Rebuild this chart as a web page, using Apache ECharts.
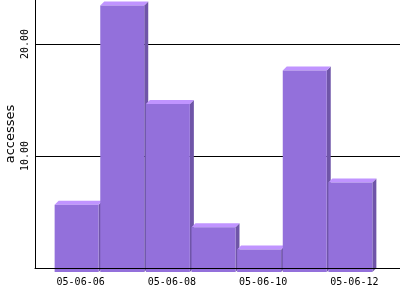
<!DOCTYPE html>
<html>
<head>
<meta charset="utf-8">
<script src="https://cdn.jsdelivr.net/npm/echarts@6/dist/echarts.min.js"></script>
<style>
html,body{margin:0;padding:0;background:#fff;}
#chart{width:400px;height:300px;}
</style>
</head>
<body>
<div id="chart"></div>
<script>
const categories = ['05-06-06','05-06-07','05-06-08','05-06-09','05-06-10','05-06-11','05-06-12'];
const accesses = [6, 23.8, 15, 4, 2, 18, 8];
const yTicks = [10, 20];

const chart = echarts.init(document.getElementById('chart'), null, {renderer: 'canvas'});
const DEPTH = 4;
const HALF = 0.482;

chart.setOption({
  animation: false,
  backgroundColor: '#ffffff',
  grid: {left: 35, right: 0, top: -68, bottom: 32, containLabel: false, outerBoundsMode: 'none'},
  xAxis: {
    type: 'value',
    min: -1, max: 7, interval: 1,
    z: 5,
    axisLine: {show: true, onZero: false, lineStyle: {color: '#000', width: 1}},
    axisTick: {show: false},
    splitLine: {show: false},
    axisLabel: {
      margin: 9,
      fontFamily: 'DejaVu Sans Mono',
      fontSize: 10,
      color: '#000',
      formatter: function (v) {
        const i = Math.round(v);
        if (i >= 0 && i < categories.length && i % 2 === 0) return categories[i];
        return '';
      }
    }
  },
  yAxis: {
    type: 'value',
    min: 0, max: 30, interval: 10,
    name: 'accesses',
    nameLocation: 'middle',
    nameRotate: 90,
    nameGap: 18,
    nameMoveOverlap: false,
    nameTextStyle: {fontFamily: 'DejaVu Sans', fontSize: 13, color: '#000', padding: [0, 68, 0, 0]},
    axisLine: {show: true, onZero: false, lineStyle: {color: '#000', width: 1}},
    axisTick: {show: false},
    splitLine: {show: true, lineStyle: {color: '#000', width: 1}},
    axisLabel: {
      rotate: 90,
      margin: 5,
      fontFamily: 'DejaVu Sans Mono',
      fontSize: 10,
      color: '#000',
      formatter: function (v) { return yTicks.indexOf(v) >= 0 ? v.toFixed(2) : ''; }
    }
  },
  series: [{
    type: 'custom',
    clip: false,
    z: 2,
    data: accesses.map((v, i) => [i, v]),
    renderItem: function (params, api) {
      const i = api.value(0), v = api.value(1);
      const b = api.coord([i - HALF, 0]);
      const t = api.coord([i + HALF, v]);
      const x0 = b[0], x1 = t[0], yb = b[1], yt = t[1];
      const d = DEPTH;
      return {
        type: 'group',
        children: [
          {type: 'polygon', shape: {points: [[x1 - d, yt + d], [x1, yt], [x1, yb], [x1 - d, yb + d]]},
            style: {fill: '#6f55a8'}},
          {type: 'polygon', shape: {points: [[x0 - d, yt + d], [x0, yt], [x1, yt], [x1 - d, yt + d]]},
            style: {fill: '#c094ff'}},
          {type: 'rect', shape: {x: x0 - d, y: yt + d, width: x1 - x0, height: yb - yt},
            style: {fill: '#9370db'}}
        ]
      };
    }
  }]
});
</script>
</body>
</html>
